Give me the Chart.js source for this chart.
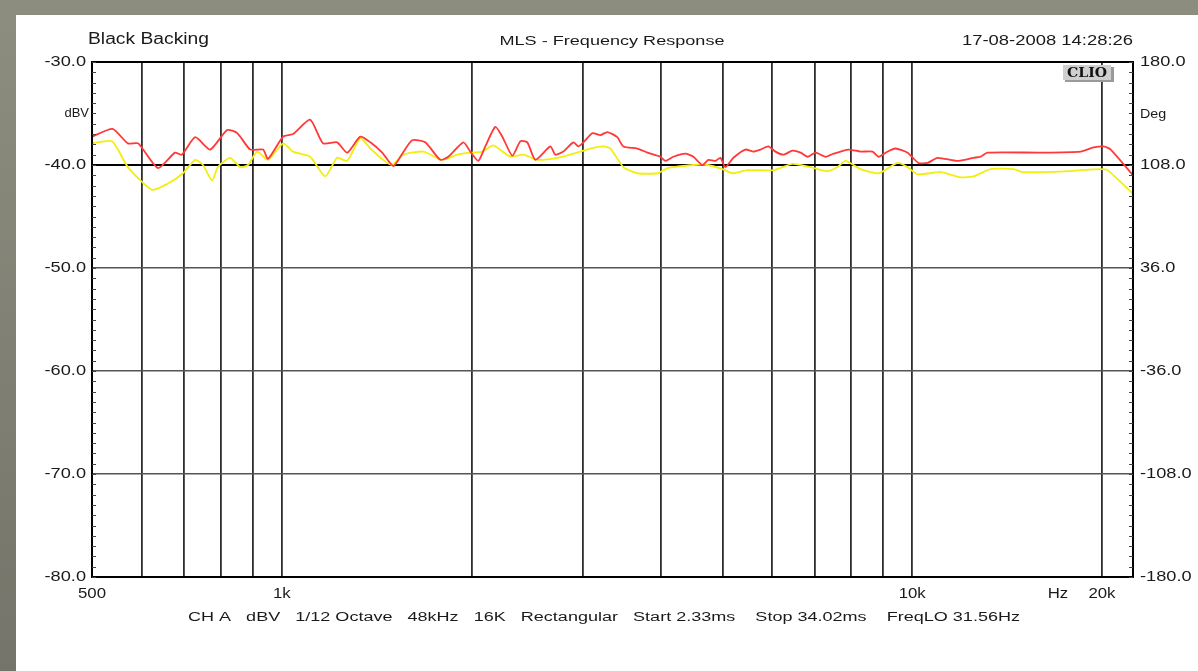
<!DOCTYPE html>
<html>
<head>
<meta charset="utf-8">
<script src="https://cdn.jsdelivr.net/npm/chart.js@4/dist/chart.umd.min.js"></script>
<style>
    body { margin: 0; width: 1198px; height: 671px; overflow: hidden;
           background: linear-gradient(180deg, #8d8d7f, #74746a); }
    #panel { position: absolute; left: 16px; top: 15px; right: 0; bottom: 0; background: #fff; }
    #chart { position: absolute; left: 0; top: 0; }
</style>
</head>
<body>
<div id="panel"></div>
<canvas id="chart" width="1198" height="671"></canvas>
<script>
// Frequency response, dBV (red = upper trace, yellow = lower trace)
const redFreq = [500, 539, 570, 592, 636, 677, 694, 729, 770, 819, 850, 891, 934, 951, 1005, 1042, 1109, 1163, 1224, 1270,
    1332, 1382, 1443, 1503, 1553, 1610, 1689, 1784, 1837, 1941, 1991, 2050, 2103, 2181, 2238, 2321, 2390, 2452, 2525, 2667,
    2716, 2796, 2900, 2954, 3009, 3110, 3201, 3285, 3406, 3482, 3665, 3802, 3987, 4060, 4180, 4368, 4497, 4648, 4751, 4874,
    4963, 5055, 5205, 5438, 5600, 5745, 5915, 6068, 6249, 6458, 6652, 6824, 7026, 7288, 7503, 7924, 8279, 8651, 8843, 9138,
    9409, 9833, 10229, 10579, 10969, 11800, 12509, 12833, 13167, 15984, 18505, 19400, 20124, 20648, 22400];
const redDb = [-37.25, -36.5, -37.9, -37.9, -40.3, -38.8, -39.0, -37.3, -38.5, -36.6, -36.9, -38.5, -38.5, -39.4, -37.25, -37.0, -35.6, -37.9, -37.8, -38.8,
    -37.25, -37.8, -38.8, -40.1, -38.9, -37.6, -37.8, -39.5, -39.2, -37.8, -38.7, -39.6, -38.2, -36.3, -37.25, -39.1, -37.7, -37.8, -39.5, -38.2,
    -39.0, -38.7, -37.8, -38.2, -37.8, -36.9, -37.1, -36.8, -37.3, -38.2, -38.4, -38.8, -39.2, -39.6, -39.2, -38.9, -39.2, -40.0, -39.5, -39.6,
    -39.3, -40.2, -39.3, -38.5, -38.7, -38.5, -38.2, -38.7, -39.0, -38.6, -38.8, -39.2, -38.8, -39.2, -38.9, -38.5, -38.7, -38.7, -39.2, -38.7,
    -38.4, -38.8, -39.8, -39.8, -39.3, -39.6, -39.3, -39.2, -38.8, -38.8, -38.7, -38.3, -38.2, -38.5, -41.0];

const yellowFreq = [500, 538, 570, 622, 660, 697, 729, 750, 775, 792, 828, 859, 884, 914, 951, 1005, 1042, 1109, 1172, 1224,
    1270, 1332, 1382, 1448, 1497, 1558, 1677, 1797, 1899, 1991, 2080, 2165, 2304, 2417, 2543, 2736, 2943, 3087, 3237, 3321,
    3482, 3665, 3943, 4090, 4180, 4497, 4733, 5000, 5184, 5478, 6026, 6458, 6899, 7339, 7613, 7838, 8279, 8843, 9478, 9833,
    10193, 11092, 11929, 12509, 13313, 14484, 15024, 17640, 18505, 19905, 20415, 22400];
const yellowDb = [-37.9, -37.7, -40.2, -42.4, -41.8, -40.8, -39.5, -40.0, -41.5, -40.2, -39.3, -40.2, -40.0, -38.7, -39.5, -37.9, -38.7, -39.2, -41.1, -39.3,
    -39.6, -37.4, -38.4, -39.5, -40.0, -39.0, -38.7, -39.5, -39.0, -38.8, -38.7, -38.1, -39.2, -39.0, -39.5, -39.3, -38.8, -38.4, -38.2, -38.4,
    -40.2, -40.8, -40.8, -40.3, -40.2, -40.0, -40.0, -40.4, -40.8, -40.5, -40.5, -39.9, -40.2, -40.6, -40.2, -39.6, -40.4, -40.8, -39.8, -40.2,
    -40.9, -40.7, -41.2, -41.1, -40.4, -40.4, -40.7, -40.6, -40.5, -40.4, -40.5, -42.8];

// Axes
const xMin = 500;
const xMax = 22400;
const gridFreqs = [600, 700, 800, 900, 1000, 2000, 3000, 4000, 5000, 6000, 7000, 8000, 9000, 10000, 20000];
const xLabelFreqs = [500, 1000, 10000, 20000];
const xLabelText = ['500', '1k', '10k', '20k'];
const dbTicks = [-30, -40, -50, -60, -70, -80];
const degTicks = [180, 108, 36, -36, -108, -180];

const FONT = '"Liberation Sans", Arial, sans-serif';

// draw text stretched horizontally (either to a fixed width or by a factor)
function drawText(ctx, str, x, y, opts) {
    ctx.save();
    ctx.font = (opts.bold ? 'bold ' : '') + opts.size + 'px ' + (opts.family || FONT);
    ctx.fillStyle = opts.color || '#1a1a1a';
    ctx.textBaseline = opts.baseline || 'alphabetic';
    const w = ctx.measureText(str).width;
    const sx = opts.width ? opts.width / w : (opts.sx || 1);
    const drawnW = w * sx;
    let left = x;
    if (opts.align === 'center') left = x - drawnW / 2;
    if (opts.align === 'right') left = x - drawnW;
    ctx.translate(left, y);
    ctx.scale(sx, 1);
    ctx.textAlign = 'left';
    ctx.fillText(str, 0, 0);
    ctx.restore();
}

const decorPlugin = {
    id: 'decor',
    afterDraw(chart) {
        const ctx = chart.ctx;
        const area = chart.chartArea;
        const xs = chart.scales.x;
        const ys = chart.scales.y;
        const ys2 = chart.scales.y2;

        // frame
        ctx.save();
        ctx.strokeStyle = '#000';
        ctx.lineWidth = 2;
        ctx.strokeRect(area.left, area.top, area.right - area.left, area.bottom - area.top);

        // minor ticks every 1 dB, inside on both sides
        ctx.lineWidth = 1;
        ctx.strokeStyle = '#444';
        for (let v = -80; v <= -30; v++) {
            const py = Math.round(ys.getPixelForValue(v)) + 0.5;
            ctx.beginPath();
            ctx.moveTo(area.left, py);
            ctx.lineTo(area.left + 4, py);
            ctx.moveTo(area.right - 4, py);
            ctx.lineTo(area.right, py);
            ctx.stroke();
        }
        ctx.restore();

        // left labels
        dbTicks.forEach(v => {
            drawText(ctx, v.toFixed(1), 86, ys.getPixelForValue(v), { size: 14, sx: 1.3, align: 'right', baseline: 'middle' });
        });
        drawText(ctx, 'dBV', 89, 113, { size: 13, sx: 1.0, align: 'right', baseline: 'middle' });

        // right labels
        degTicks.forEach(v => {
            drawText(ctx, v.toFixed(1), 1140, ys2.getPixelForValue(v), { size: 14, sx: 1.3, align: 'left', baseline: 'middle' });
        });
        drawText(ctx, 'Deg', 1140, 114, { size: 13, sx: 1.1, align: 'left', baseline: 'middle' });

        // bottom labels
        xLabelFreqs.forEach((f, i) => {
            drawText(ctx, xLabelText[i], xs.getPixelForValue(f), 598, { size: 14, sx: 1.2, align: 'center' });
        });
        drawText(ctx, 'Hz', 1058, 598, { size: 14, sx: 1.2, align: 'center' });

        // header
        drawText(ctx, 'Black Backing', 88, 44, { size: 16, width: 121 });
        drawText(ctx, 'MLS - Frequency Response', 612, 45, { size: 12.5, width: 225, align: 'center' });
        drawText(ctx, '17-08-2008 14:28:26', 1133, 45, { size: 14, width: 171, align: 'right' });

        // footer
        drawText(ctx, 'CH A   dBV   1/12 Octave   48kHz   16K   Rectangular   Start 2.33ms    Stop 34.02ms    FreqLO 31.56Hz',
            604, 621, { size: 12.5, width: 832, align: 'center' });

        // CLIO badge
        ctx.save();
        ctx.fillStyle = '#9a9a9a';
        ctx.fillRect(1065, 67, 49, 15);
        ctx.fillStyle = '#cfcfcf';
        ctx.fillRect(1063, 65, 48, 15);
        ctx.restore();
        drawText(ctx, 'CLIO', 1087, 77, { size: 12, bold: true, family: '"DejaVu Serif", serif', width: 40, align: 'center', color: '#111' });
    }
};

function toPoints(freqs, values) {
    return freqs.map((f, i) => ({ x: f, y: values[i] }));
}

new Chart(document.getElementById('chart').getContext('2d'), {
    type: 'line',
    data: {
        datasets: [
            {
                label: 'Red',
                data: toPoints(redFreq, redDb),
                borderColor: '#ff3838',
                borderWidth: 1.8,
                pointRadius: 0,
                tension: 0.2,
                fill: false
            },
            {
                label: 'Yellow',
                data: toPoints(yellowFreq, yellowDb),
                borderColor: '#f2ee10',
                borderWidth: 1.8,
                pointRadius: 0,
                tension: 0.2,
                fill: false
            }
        ]
    },
    options: {
        responsive: false,
        animation: false,
        layout: { padding: { top: 62, left: 0, right: 0, bottom: 0 } },
        plugins: {
            legend: { display: false },
            tooltip: { enabled: false }
        },
        scales: {
            x: {
                type: 'logarithmic',
                min: xMin,
                max: xMax,
                afterBuildTicks: s => { s.ticks = gridFreqs.map(v => ({ value: v })); },
                afterFit: s => { s.height = 94; },
                ticks: { display: false },
                border: { display: false },
                grid: { color: '#2e2e2e', lineWidth: 1.8, drawTicks: false }
            },
            y: {
                position: 'left',
                min: -80,
                max: -30,
                afterBuildTicks: s => { s.ticks = dbTicks.map(v => ({ value: v })); },
                afterFit: s => { s.width = 92; },
                ticks: { display: false },
                border: { display: false },
                grid: {
                    color: c => (c.tick && c.tick.value === -40 ? '#000' : '#555'),
                    lineWidth: c => (c.tick && c.tick.value === -40 ? 2 : 1.4),
                    drawTicks: false
                }
            },
            y2: {
                position: 'right',
                min: -180,
                max: 180,
                afterFit: s => { s.width = 65; },
                ticks: { display: false },
                border: { display: false },
                grid: { display: false, drawTicks: false }
            }
        }
    },
    plugins: [decorPlugin]
});
</script>
</body>
</html>
